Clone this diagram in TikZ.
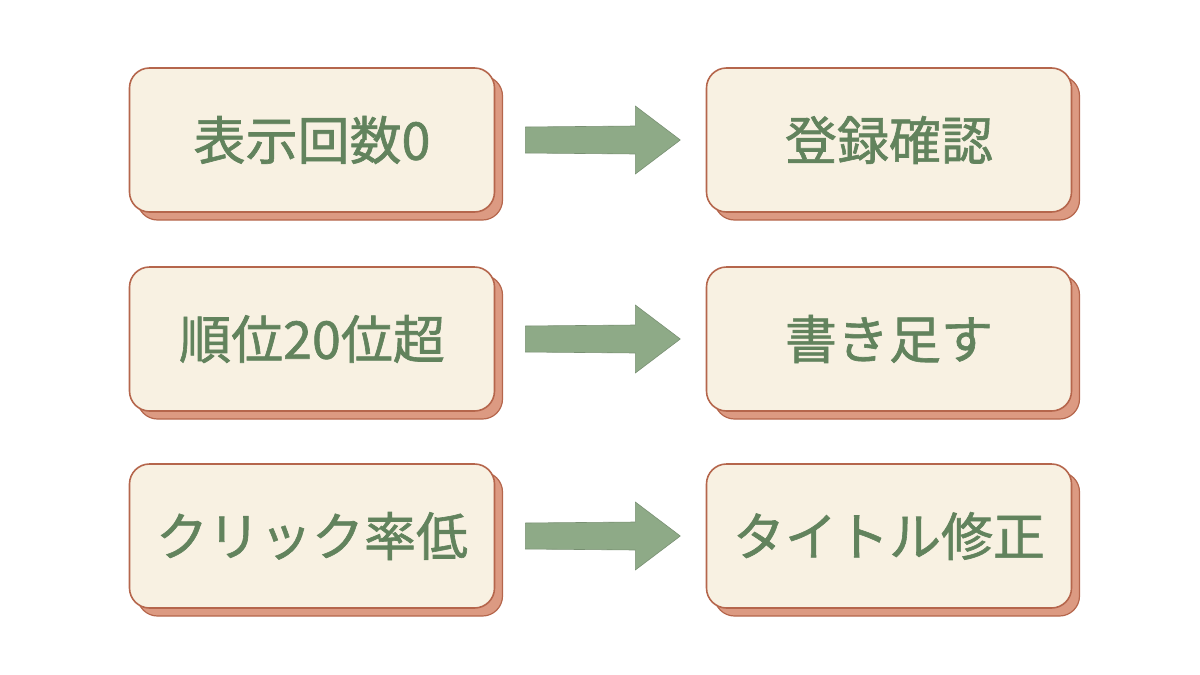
\documentclass[tikz,border=0pt]{standalone}
\usepackage{fontspec}
\newfontfamily\cjk[FakeBold=1.2]{Noto Sans CJK JP}
\usetikzlibrary{shadows,calc}
\definecolor{fillc}{HTML}{F8F1E2}
\definecolor{borderc}{HTML}{B5664C}
\definecolor{shadowc}{HTML}{DC9A82}
\definecolor{textc}{HTML}{62835D}
\definecolor{arrowc}{HTML}{8EAA87}
\begin{document}
\begin{tikzpicture}[x=1pt,y=-1pt,
 box/.style={draw=borderc,line width=1.6pt,fill=fillc,rounded corners=20pt,
   minimum width=365pt,minimum height=144pt,text=textc,
   font=\cjk\fontsize{52}{58}\selectfont,
   general shadow={fill=shadowc,draw=borderc,line width=1.2pt,shadow xshift=8pt,shadow yshift=-8pt}},
 arr/.style={fill=arrowc,draw=arrowc!85!black,line width=0.6pt,line join=round}]
\useasboundingbox (0,0) rectangle (1200,675);
\node[box] (a1) at (312,140) {表示回数0};
\node[box] (a2) at (312,339) {順位20位超};
\node[box] (a3) at (312,536) {クリック率低};
\node[box] (b1) at (889,140) {登録確認};
\node[box] (b2) at (889,339) {書き足す};
\node[box] (b3) at (889,536) {タイトル修正};
\foreach \i in {1,2,3}{
 \draw[arr] ($(a\i.east)+(30,-13)$) -- ($(a\i.east)+(140,-14)$) -- ($(a\i.east)+(140,-34)$)
   -- ($(a\i.east)+(185,0)$) -- ($(a\i.east)+(140,34)$) -- ($(a\i.east)+(140,14)$)
   -- ($(a\i.east)+(30,13)$) -- cycle;
}
\end{tikzpicture}
\end{document}
